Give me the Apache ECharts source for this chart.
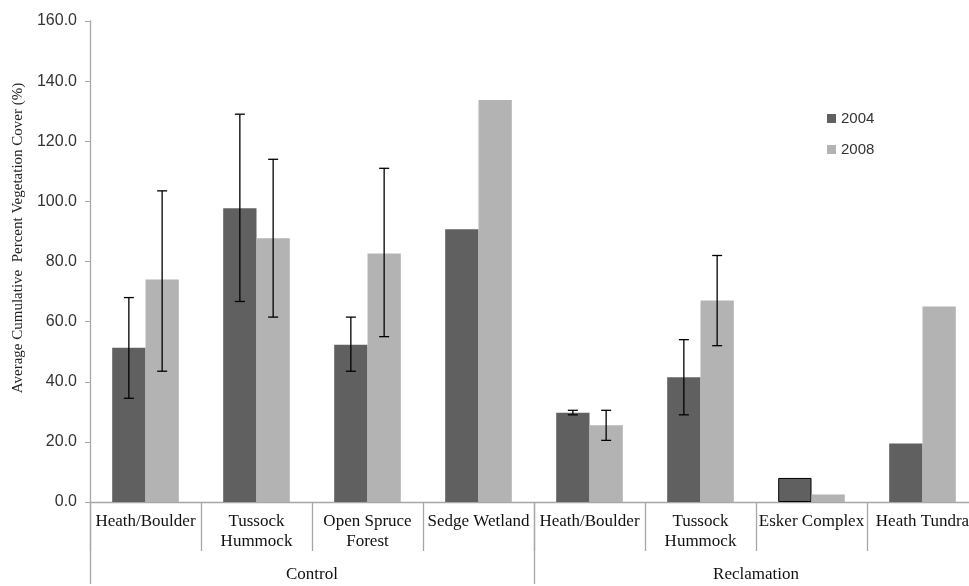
<!DOCTYPE html>
<html><head><meta charset="utf-8">
<script src="https://cdn.jsdelivr.net/npm/echarts@6/dist/echarts.min.js"></script>
<style>html,body{margin:0;padding:0;background:#fff;overflow:hidden}#c{width:978px;height:586px}</style>
</head><body><div id="c"></div>
<script>
const categories = ['Heath/Boulder','Tussock\nHummock','Open Spruce\nForest','Sedge Wetland','Heath/Boulder','Tussock\nHummock','Esker Complex','Heath Tundra'];
const groups = ['Control','Reclamation'];
const values2004 = [51.3, 97.7, 52.3, 90.7, 29.7, 41.5, 8.0, 19.5];
const values2008 = [74.0, 87.7, 82.7, 133.7, 25.5, 67.0, 2.5, 65.0];
const errLow2004 = [34.5, 66.7, 43.5, null, 29.0, 29.0, null, null];
const errHigh2004 = [68.0, 129.0, 61.5, null, 30.5, 54.0, null, null];
const errLow2008 = [43.5, 61.5, 55.0, null, 20.5, 52.0, null, null];
const errHigh2008 = [103.5, 114.0, 111.0, null, 30.5, 82.0, null, null];
const yTicks = {min: 0, max: 160, interval: 20};
const yTitle = 'Average Cumulative  Percent Vegetation Cover (%)';

const chart = echarts.init(document.getElementById('c'));
function errData(lo, hi){
  const d = [];
  lo.forEach((v,i)=>{ if(v!=null) d.push([i, v, hi[i]]); });
  return d;
}
function errSeries(name, lo, hi, side){
  return {
    type:'custom', name: name, xAxisIndex:0, yAxisIndex:0, z:10,
    data: errData(lo, hi),
    encode:{x:0, y:[1,2]},
    renderItem: function(params, api){
      const x = api.value(0);
      const pLo = api.coord([x, api.value(1)]);
      const pHi = api.coord([x, api.value(2)]);
      const band = api.size([1,0])[0];
      const cx = pLo[0] + side*band*0.15;
      const cap = 5;
      const st = {stroke:'#000', lineWidth:1.3};
      return {type:'group', children:[
        {type:'line', shape:{x1:cx,y1:pLo[1],x2:cx,y2:pHi[1]}, style:st},
        {type:'line', shape:{x1:cx-cap,y1:pLo[1],x2:cx+cap,y2:pLo[1]}, style:st},
        {type:'line', shape:{x1:cx-cap,y1:pHi[1],x2:cx+cap,y2:pHi[1]}, style:st}
      ]};
    },
    tooltip:{show:false}
  };
}
const d2004 = values2004.map((v,i)=> i===6 ? {value:v, itemStyle:{borderColor:'#000', borderWidth:1}} : v);
chart.setOption({
  animation:false,
  grid:{left:90, top:21, bottom:82, right:0, containLabel:false},
  legend:{orient:'vertical', left:822, top:106, itemWidth:9, itemHeight:9, itemGap:16, icon:'rect',
    textStyle:{fontSize:15, color:'#333', fontFamily:'Liberation Sans, sans-serif'},
    data:['2004','2008']},
  graphic:[{type:'text', x:18, y:238, rotation:Math.PI/2,
    style:{text:yTitle, fontSize:15, fill:'#222', fontFamily:'Liberation Serif, serif',
      align:'center', verticalAlign:'middle'}}],
  xAxis:[
    {type:'category', data:categories, position:'bottom',
      axisLine:{lineStyle:{color:'#a6a6a6', width:1.3}},
      axisTick:{show:true, interval:0, length:49, lineStyle:{color:'#a6a6a6', width:1.3}},
      axisLabel:{interval:0, margin:10, fontSize:17, color:'#111', lineHeight:20,
        fontFamily:'Liberation Serif, serif'}},
    {type:'category', data:groups, position:'bottom', offset:0,
      axisLine:{show:false},
      axisTick:{show:true, interval:0, length:82, lineStyle:{color:'#a6a6a6', width:1.3}},
      axisLabel:{interval:0, margin:62, fontSize:17, color:'#111', lineHeight:22, fontFamily:'Liberation Serif, serif'}}
  ],
  yAxis:{type:'value', min:yTicks.min, max:yTicks.max, interval:yTicks.interval,
    axisLine:{show:true, lineStyle:{color:'#a6a6a6', width:1.3}},
    axisTick:{show:true, length:5, lineStyle:{color:'#a6a6a6'}},
    splitLine:{show:false},
    axisLabel:{fontSize:16, color:'#333', margin:13, fontFamily:'Liberation Sans, sans-serif',
      formatter:v=>v.toFixed(1)}},
  series:[
    {type:'bar', name:'2004', data:d2004, barGap:'0%', barCategoryGap:'40%',
      itemStyle:{color:'#606060'}},
    {type:'bar', name:'2008', data:values2008, barGap:'0%', barCategoryGap:'40%',
      itemStyle:{color:'#b3b3b3'}},
    errSeries('e2004', errLow2004, errHigh2004, -1),
    errSeries('e2008', errLow2008, errHigh2008, 1)
  ]
});
</script></body></html>
